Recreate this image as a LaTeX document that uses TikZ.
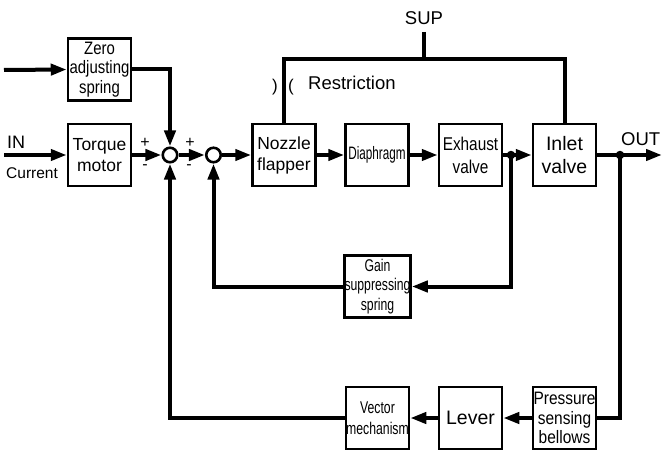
\documentclass[tikz,border=0pt]{standalone}
\usepackage{fontspec}
\setmainfont{Liberation Sans}
\newfontfamily\nfA[FakeStretch=0.83]{Liberation Sans}
\newfontfamily\nfB[FakeStretch=0.72]{Liberation Sans}
\newfontfamily\nfC[FakeStretch=0.65]{Liberation Sans}
\newfontfamily\nfD[FakeStretch=0.86]{Liberation Sans}
\usetikzlibrary{arrows.meta}
\begin{document}
\begin{tikzpicture}[x=1pt,y=-1pt,
 blk/.style={draw,line width=2.5pt,minimum width=63pt,minimum height=62pt,inner sep=0pt,align=center},
 conn/.style={line width=4pt,line join=miter},
 arr/.style={conn,-{Triangle[length=16pt,width=11pt]}},
 sumc/.style={draw,circle,line width=2.6pt,minimum size=14.5pt,inner sep=0pt},
 dotc/.style={fill,circle,minimum size=8.5pt,inner sep=0pt},
 lbl/.style={inner sep=0pt}]
\useasboundingbox (0,0) rectangle (662,452);

% blocks
\node[blk,font=\nfA\fontsize{18}{19.5}\selectfont] (zero) at (99.5,69.5) {Zero\\adjusting\\spring};
\node[blk,font=\fontsize{17.5}{21}\selectfont] (torque) at (99.5,155) {Torque\\motor};
\node[blk,font=\fontsize{17.5}{21}\selectfont] (nozzle) at (284,155) {Nozzle\\flapper};
\node[blk,font=\nfC\fontsize{18}{20}\selectfont] (diaph) at (377,155) {Diaphragm};
\node[blk,font=\nfA\fontsize{18.5}{23}\selectfont] (exh) at (470.5,155) {Exhaust\\valve};
\node[blk,font=\fontsize{19.5}{23}\selectfont] (inlet) at (564.5,155) {Inlet\\valve};
\node[blk,font=\nfB\fontsize{17}{19.5}\selectfont] (gain) at (377.5,286.5) {Gain\\suppressing\\spring};
\node[blk,font=\nfB\fontsize{17}{21}\selectfont] (vector) at (377.5,418) {Vector\\mechanism};
\node[blk,font=\fontsize{19.5}{22}\selectfont] (lever) at (470.5,418) {Lever};
\node[blk,font=\nfD\fontsize{18}{19.5}\selectfont] (bellows) at (564.5,418) {Pressure\\sensing\\bellows};

% summing junctions and dots
\node[sumc] (s1) at (170,155) {};
\node[sumc] (s2) at (213.5,155) {};
\node[dotc] (d1) at (511,155) {};
\node[dotc] (d2) at (620,155) {};

% free ends
\coordinate (inZ) at (4,70);
\coordinate (inI) at (4,155);
\coordinate (outend) at (662,155);
\coordinate (rt) at (424,59);
\coordinate (sup) at (424,32);

% connectors
\draw[arr] (inZ) -- (zero.west);
\draw[arr] (inI) -- (torque.west);
\draw[arr] (zero.east) -| (s1.north);
\draw[arr] (torque.east) -- (s1.west);
\draw[arr] (s1.east) -- (s2.west);
\draw[arr] (s2.east) -- (nozzle.west);
\draw[arr] (nozzle.east) -- (diaph.west);
\draw[arr] (diaph.east) -- (exh.west);
\draw[arr] (exh.east) -- (inlet.west);
\draw[arr] (inlet.east) -- (outend);
\draw[arr] (d1.center) |- (gain.east);
\draw[arr] (gain.west) -| (s2.south);
\draw[conn] (d2.center) |- (bellows.east);
\draw[arr] (bellows.west) -- (lever.east);
\draw[arr] (lever.west) -- (vector.east);
\draw[arr] (vector.west) -| (s1.south);
\draw[conn] (nozzle.north) |- (rt) -| (inlet.north);
\draw[conn] (sup) -- (rt);

% labels
\node[lbl,anchor=base west,font=\fontsize{18}{20}\selectfont] (tIN) at (7,148) {IN};
\node[lbl,anchor=base west,font=\fontsize{15.5}{18}\selectfont] (tCur) at (6,178) {Current};
\node[lbl,anchor=base,font=\fontsize{18.5}{20}\selectfont] (tSUP) at (424,25) {SUP};
\node[lbl,anchor=base west,font=\fontsize{18.5}{20}\selectfont] (tOUT) at (621,145) {OUT};
\node[lbl,anchor=base west,font=\fontsize{18.5}{20}\selectfont] (tRes) at (308,89) {Restriction};
\node[lbl,font=\fontsize{17}{20}\selectfont] (pl) at (275,87) {)};
\node[lbl,font=\fontsize{17}{20}\selectfont] (pr) at (291,87) {(};
\node[lbl,font=\fontsize{16}{18}\selectfont] (p1) at (145,143) {+};
\node[lbl,font=\fontsize{16}{18}\selectfont] (m1) at (145,167) {-};
\node[lbl,font=\fontsize{16}{18}\selectfont] (p2) at (190,143) {+};
\node[lbl,font=\fontsize{16}{18}\selectfont] (m2) at (189,167) {-};
\end{tikzpicture}
\end{document}
